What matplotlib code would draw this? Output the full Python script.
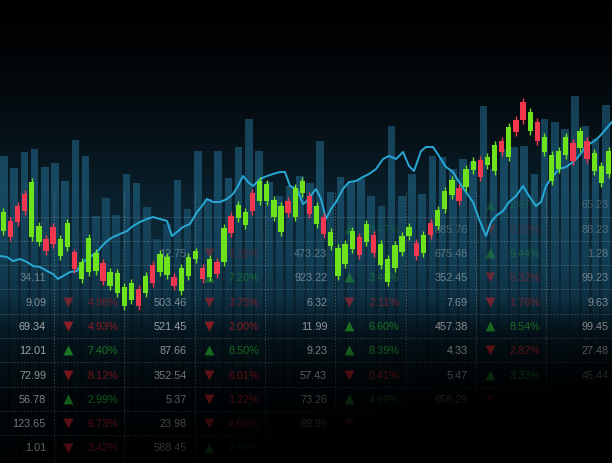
import numpy as np
import matplotlib.pyplot as plt

plt.rcParams['font.family'] = ['Liberation Sans', 'DejaVu Sans']

W, H = 612, 464

# background volume bars (60 periods)
volume = [307, 295, 311, 314, 296, 300, 282, 323, 307, 247, 265, 248, 289, 280, 256,
          224, 239, 283, 254, 312, 264, 312, 285, 316, 344, 312, 281, 267, 277, 287,
          280, 322, 271, 286, 281, 284, 267, 257, 337, 267, 289, 269, 307, 306, 294,
          304, 301, 357, 294, 314, 316, 317, 289, 344, 341, 334, 367, 337, 324, 358]

# candlesticks (86 periods)
c_open = [232, 242, 257, 269, 226, 221, 224, 236, 207, 216, 211, 184, 191, 192, 200,
          177, 170, 157, 163, 174, 170, 198, 191, 188, 186, 172, 187, 204, 195, 186,
          201, 201, 247, 245, 238, 270, 262, 262, 246, 231, 262, 246, 270, 267, 239,
          246, 217, 187, 199, 214, 226, 221, 228, 198, 181, 195, 211, 227, 220, 210,
          240, 237, 254, 268, 275, 276, 293, 303, 298, 292, 322, 306, 343, 361, 332,
          341, 311, 282, 294, 308, 320, 315, 322, 292, 280, 289]
c_close = [251, 226, 241, 252, 281, 237, 212, 219, 224, 240, 194, 201, 225, 210, 182,
           191, 190, 176, 180, 157, 187, 180, 209, 206, 177, 195, 206, 212, 184, 204,
           189, 235, 230, 258, 251, 252, 282, 279, 263, 257, 250, 275, 282, 249, 257,
           229, 231, 215, 219, 232, 208, 239, 210, 219, 204, 218, 227, 236, 207, 228,
           228, 253, 272, 283, 262, 294, 302, 286, 306, 318, 311, 336, 331, 343, 351,
           322, 326, 308, 312, 326, 302, 332, 304, 310, 297, 312]
c_high = [255, 246, 261, 273, 285, 241, 228, 240, 228, 244, 214, 205, 229, 214, 204,
          195, 194, 180, 184, 178, 191, 202, 213, 210, 190, 199, 210, 215, 199, 208,
          205, 239, 251, 262, 255, 274, 286, 283, 267, 261, 266, 279, 286, 271, 261,
          250, 235, 219, 223, 236, 230, 243, 232, 223, 208, 222, 231, 240, 224, 232,
          244, 257, 276, 287, 279, 298, 306, 307, 310, 322, 326, 340, 347, 365, 355,
          345, 330, 312, 316, 330, 324, 336, 326, 314, 301, 316]
c_low = [228, 222, 237, 248, 222, 217, 208, 215, 203, 212, 190, 180, 187, 188, 178,
         173, 166, 153, 159, 153, 166, 176, 187, 184, 173, 168, 183, 200, 180, 182,
         185, 197, 226, 241, 234, 248, 258, 258, 242, 227, 246, 242, 266, 245, 235,
         225, 213, 183, 195, 210, 204, 217, 206, 194, 177, 191, 207, 223, 203, 206,
         224, 233, 250, 264, 258, 272, 289, 282, 294, 288, 307, 302, 327, 339, 328,
         318, 307, 278, 290, 304, 298, 311, 300, 288, 276, 285]

# index line
line_x = [0, 7, 13, 20, 27, 33, 40, 47, 53, 58, 63, 70, 77, 83, 90, 97, 102, 107, 113, 120,
          127, 133, 140, 147, 153, 160, 167, 172, 177, 183, 190, 197, 202, 207, 213, 220,
          227, 233, 238, 243, 248, 253, 260, 267, 273, 280, 285, 290, 297, 303,
          306, 316, 321, 326, 331, 336, 343, 349, 356, 363, 369, 376, 383, 389, 396, 403,
          409, 414, 421, 426, 433, 439, 446, 453, 459, 466, 473, 479, 486, 491, 496, 503,
          509, 516, 523, 529, 536, 541, 546, 553, 559, 566, 573, 579, 586, 593, 599, 606, 612]
line_level = [207, 206, 202, 204, 201, 197, 196, 192, 189, 184, 187, 191, 192, 201, 206,
              211, 217, 222, 226, 229, 232, 237, 241, 244, 246, 244, 242, 227, 231, 236,
              239, 251, 257, 264, 261, 261, 264, 269, 277, 287, 281, 277, 284, 287, 289,
              291, 291, 277, 274, 259, 261, 274, 264, 244, 254, 261, 274, 281, 282, 286,
              289, 294, 304, 307, 304, 311, 297, 292, 312, 316, 316, 307, 296, 291, 281,
              271, 261, 244, 227, 241, 247, 252, 261, 267, 277, 267, 257, 261, 277, 287,
              294, 296, 301, 307, 317, 321, 326, 334, 341]

# quote table: 5 price columns and 4 change columns per row
quotes = [
    [None, None, None, None, "65.23"],
    [None, None, None, "885.76", "88.23"],
    [None, "12.75", "473.23", "675.48", "1.28"],
    ["34.11", None, "923.22", "352.45", "99.23"],
    ["9.09", "503.46", "6.32", "7.69", "9.63"],
    ["69.34", "521.45", "11.99", "457.38", "99.45"],
    ["12.01", "87.66", "9.23", "4.33", "27.48"],
    ["72.99", "352.54", "57.43", "5.47", "45.44"],
    ["56.78", "5.37", "73.26", "656.29", None],
    ["123.65", "23.98", "69.99", "51.71", None],
    ["1.01", "588.45", "51.17", None, None],
]
changes = [
    [None, None, None, "+2.87"],
    [None, None, "+8.47", "-5.32"],
    [None, "-6.25", None, "+9.44"],
    [None, "+7.20", "+3.46", "-5.32"],
    ["-4.98", "-3.75", "-2.11", "-1.76"],
    ["-4.93", "-2.00", "+6.60", "+8.54"],
    ["+7.40", "+8.50", "+8.39", "-2.82"],
    ["-8.12", "-6.01", "-0.41", "+3.33"],
    ["+2.99", "-1.22", "+4.98", "-1.08"],
    ["-6.73", "-4.68", "-0.66", None],
    ["-3.42", "+2.55", None, None],
]
row_alpha = [0.25, 0.3, 0.4, 0.5, 0.6, 0.85, 0.9, 0.9, 0.9, 0.9, 0.9]

fig = plt.figure(figsize=(W / 100, H / 100), dpi=100, facecolor='black')


def layer(z):
    ax = fig.add_axes([0, 0, 1, 1], zorder=z)
    ax.set_axis_off()
    ax.patch.set_alpha(0)
    return ax


# background gradient
ys = np.arange(H)
stop_y = [0, 60, 130, 200, 260, 300, 340, 400, 464]
stop_c = [(0, 0, 0), (2, 5, 7), (6, 16, 22), (10, 32, 44), (12, 42, 58),
          (10, 36, 50), (6, 22, 30), (2, 6, 9), (0, 0, 0)]
bg_col = np.stack([np.interp(ys, stop_y, [c[i] for c in stop_c]) for i in range(3)], axis=-1) / 255
ax_bg = layer(0)
ax_bg.imshow(np.repeat(bg_col[:, None, :], W, axis=1), extent=(0, W, H, 0), aspect='auto')
ax_bg.set_xlim(0, W)
ax_bg.set_ylim(H, 0)

# volume bars
ax_vol = layer(1)
ax_vol.bar(range(len(volume)), volume, width=0.76, color='#2a80aa', alpha=0.45)
ax_vol.set_xlim(-0.39, 59.61)
ax_vol.set_ylim(0, H)

# fade the lower part of the bars into the background
fade = np.zeros((H, 1, 4))
fade[:, 0, :3] = bg_col
fade[:, 0, 3] = np.clip((ys - 190) / 140, 0, 1) * 0.9
ax_fd = layer(2)
ax_fd.imshow(np.repeat(fade, W, axis=1), extent=(0, W, H, 0), aspect='auto')
ax_fd.set_xlim(0, W)
ax_fd.set_ylim(H, 0)

# quote table
ax_t = layer(3)
ax_t.set_xlim(0, W)
ax_t.set_ylim(H, 0)
row_y = 205.5 + 24.3 * np.arange(len(quotes))
col_x = 54 + 70.3 * np.arange(9)
ax_t.hlines(row_y[:-1] + 12, 0, W, colors='#8a9aa2', lw=0.6, linestyles=(0, (2, 2)), alpha=0.5)
ax_t.vlines(col_x[:8], 193, H, colors='#8a9aa2', lw=0.6, linestyles=(0, (2, 2)), alpha=0.5)
for k, (qrow, crow) in enumerate(zip(quotes, changes)):
    a = row_alpha[k]
    y = row_y[k]
    for j, q in enumerate(qrow):
        if q:
            ax_t.text(col_x[2 * j] - 8, y, q, ha='right', va='center', fontsize=7.8,
                      color='#d4d4d4', alpha=a)
    for j, c in enumerate(crow):
        if c:
            up = c.startswith('+')
            col = '#27a12f' if up else '#b8212b'
            ax_t.scatter(col_x[2 * j] + 14, y, marker='^' if up else 'v', s=50,
                         color=col, alpha=a, linewidths=0)
            ax_t.text(col_x[2 * j] + 49, y, c[1:] + '%', ha='center', va='center',
                      fontsize=7.8, color=col, alpha=a)

# index line
ax_l = layer(4)
ax_l.plot(line_x, line_level, color='#29a8d6', lw=1.4)
ax_l.set_xlim(0, W)
ax_l.set_ylim(0, H)

# candlesticks
ax_c = layer(5)
idx = np.arange(len(c_open))
o = np.array(c_open)
c = np.array(c_close)
colors = np.where(c >= o, '#6ee21b', '#f2384f')
ax_c.vlines(idx, c_low, c_high, colors=colors, lw=1.0)
ax_c.bar(idx, np.abs(c - o), bottom=np.minimum(o, c), width=0.75, color=colors)
ax_c.set_xlim(-0.46, 85.49)
ax_c.set_ylim(0, H)

# darken the bottom, stronger to the right
xs = np.arange(W)
shade = np.clip((ys[:, None] - 300) / 160, 0, 1) * (0.45 + 1.3 * xs[None, :] / W)
dark = np.zeros((H, W, 4))
dark[..., 3] = np.clip(shade, 0, 1)
ax_dk = layer(6)
ax_dk.imshow(dark, extent=(0, W, H, 0), aspect='auto')
ax_dk.set_xlim(0, W)
ax_dk.set_ylim(H, 0)

fig.savefig('out.png', dpi=100, facecolor='black')
